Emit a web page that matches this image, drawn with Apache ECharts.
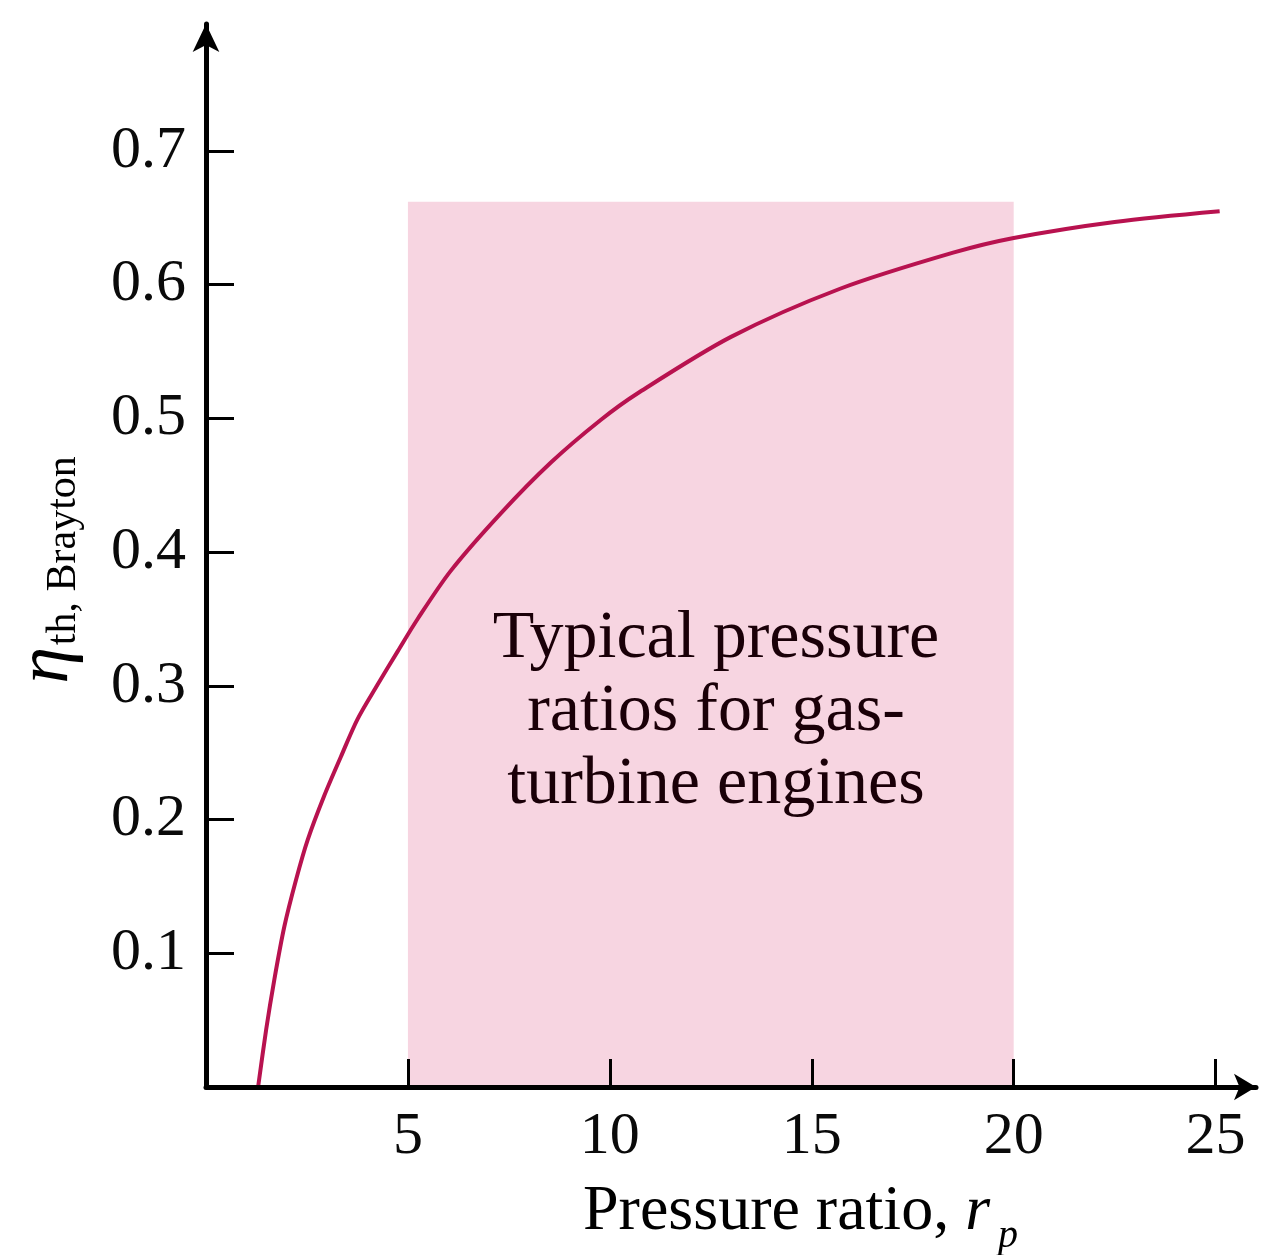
<!DOCTYPE html>
<html><head><meta charset="utf-8">
<script src="https://cdn.jsdelivr.net/npm/echarts@6/dist/echarts.min.js"></script>
<style>html,body{margin:0;padding:0;background:#fff}#c{width:1264px;height:1255px}</style>
</head><body><div id="c"></div>
<script>
const pressureRatio = [1.29, 1.49, 1.69, 1.94, 2.23, 2.52, 2.93, 3.34, 3.75, 4.25, 4.75, 5.24, 6.06, 7.3, 8.54, 9.78, 10.7, 13.0, 15.7, 18.5, 20.0, 22.5, 25.1];
const efficiency    = [0.0, 0.043, 0.080, 0.120, 0.155, 0.185, 0.218, 0.247, 0.275, 0.301, 0.326, 0.350, 0.386, 0.429, 0.467, 0.499, 0.519, 0.561, 0.597, 0.624, 0.635, 0.647, 0.655];
const xTickValues = [5, 10, 15, 20, 25];
const yTickValues = [0.1, 0.2, 0.3, 0.4, 0.5, 0.6, 0.7];
const typicalRangeStart = 5;
const typicalRangeEnd = 20;
const typicalRangeTop = 0.662;
const annotationLines = ['Typical pressure', 'ratios for gas-', 'turbine engines'];
const xAxisTitle = 'Pressure ratio, ';
const yAxisSymbol = 'η';
const yAxisSubscript = 'th, Brayton';

const FONT = '"Liberation Serif", "DejaVu Serif", serif';
const chart = echarts.init(document.getElementById('c'), null, {renderer: 'canvas'});

chart.setOption({
  backgroundColor: '#ffffff',
  animation: false,
  grid: {left: 206, right: 8, top: 24, bottom: 168, outerBoundsMode: 'none'},
  xAxis: {
    type: 'value', min: 0, max: 26, z: 5,
    splitLine: {show: false},
    axisLine: {onZero: false, lineStyle: {color: '#000', width: 5}, symbol: ['none', 'arrow'], symbolSize: [20, 22]},
    axisTick: {inside: true, length: 28, lineStyle: {color: '#000', width: 3}, customValues: xTickValues},
    axisLabel: {margin: 20, color: '#0a0a0a', fontFamily: FONT, fontSize: 60, customValues: xTickValues,
      formatter: v => String(v)}
  },
  yAxis: {
    type: 'value', min: 0, max: 0.795, z: 5,
    splitLine: {show: false},
    axisLine: {onZero: false, lineStyle: {color: '#000', width: 5}, symbol: ['none', 'arrow'], symbolSize: [20, 28]},
    axisTick: {inside: true, length: 28, lineStyle: {color: '#000', width: 3}, customValues: yTickValues},
    axisLabel: {margin: 20, color: '#0a0a0a', fontFamily: FONT, fontSize: 60, customValues: yTickValues,
      formatter: v => v.toFixed(1)}
  },
  series: [{
    type: 'line',
    data: pressureRatio.map((x, i) => [x, efficiency[i]]),
    symbol: 'none',
    smooth: 0.3,
    lineStyle: {color: '#b8124f', width: 4},
    z: 3,
    markArea: {
      silent: true,
      itemStyle: {color: '#f7d5e1', opacity: 1},
      data: [[{coord: [typicalRangeStart, 0]}, {coord: [typicalRangeEnd, typicalRangeTop]}]]
    }
  }],
  graphic: [
    {
      type: 'text', x: 716, y: 712, z: 10,
      style: {text: annotationLines.join('\n'), font: '68px ' + FONT, fill: '#1a0008',
        textAlign: 'center', textVerticalAlign: 'middle', lineHeight: 73}
    },
    {
      type: 'text', x: 583, y: 1212, z: 10,
      style: {
        text: '{n|' + xAxisTitle + '}{r|r}{p|p}',
        textAlign: 'left', textVerticalAlign: 'middle',
        rich: {
          n: {fontFamily: FONT, fontSize: 64, color: '#0a0a0a'},
          r: {fontFamily: FONT, fontSize: 64, fontStyle: 'italic', color: '#0a0a0a'},
          p: {fontFamily: FONT, fontSize: 40, fontStyle: 'italic', color: '#0a0a0a', padding: [48, 0, 0, 8]}
        }
      }
    },
    {
      type: 'text', x: 48, y: 570, rotation: Math.PI / 2, z: 10,
      style: {
        text: '{eta|' + yAxisSymbol + '}{sub|' + yAxisSubscript + '}',
        textAlign: 'center', textVerticalAlign: 'middle',
        rich: {
          eta: {fontFamily: FONT, fontSize: 74, fontStyle: 'italic', color: '#0a0a0a'},
          sub: {fontFamily: FONT, fontSize: 42, color: '#0a0a0a', padding: [32, 0, 0, 2]}
        }
      }
    }
  ]
});
</script>
</body></html>
